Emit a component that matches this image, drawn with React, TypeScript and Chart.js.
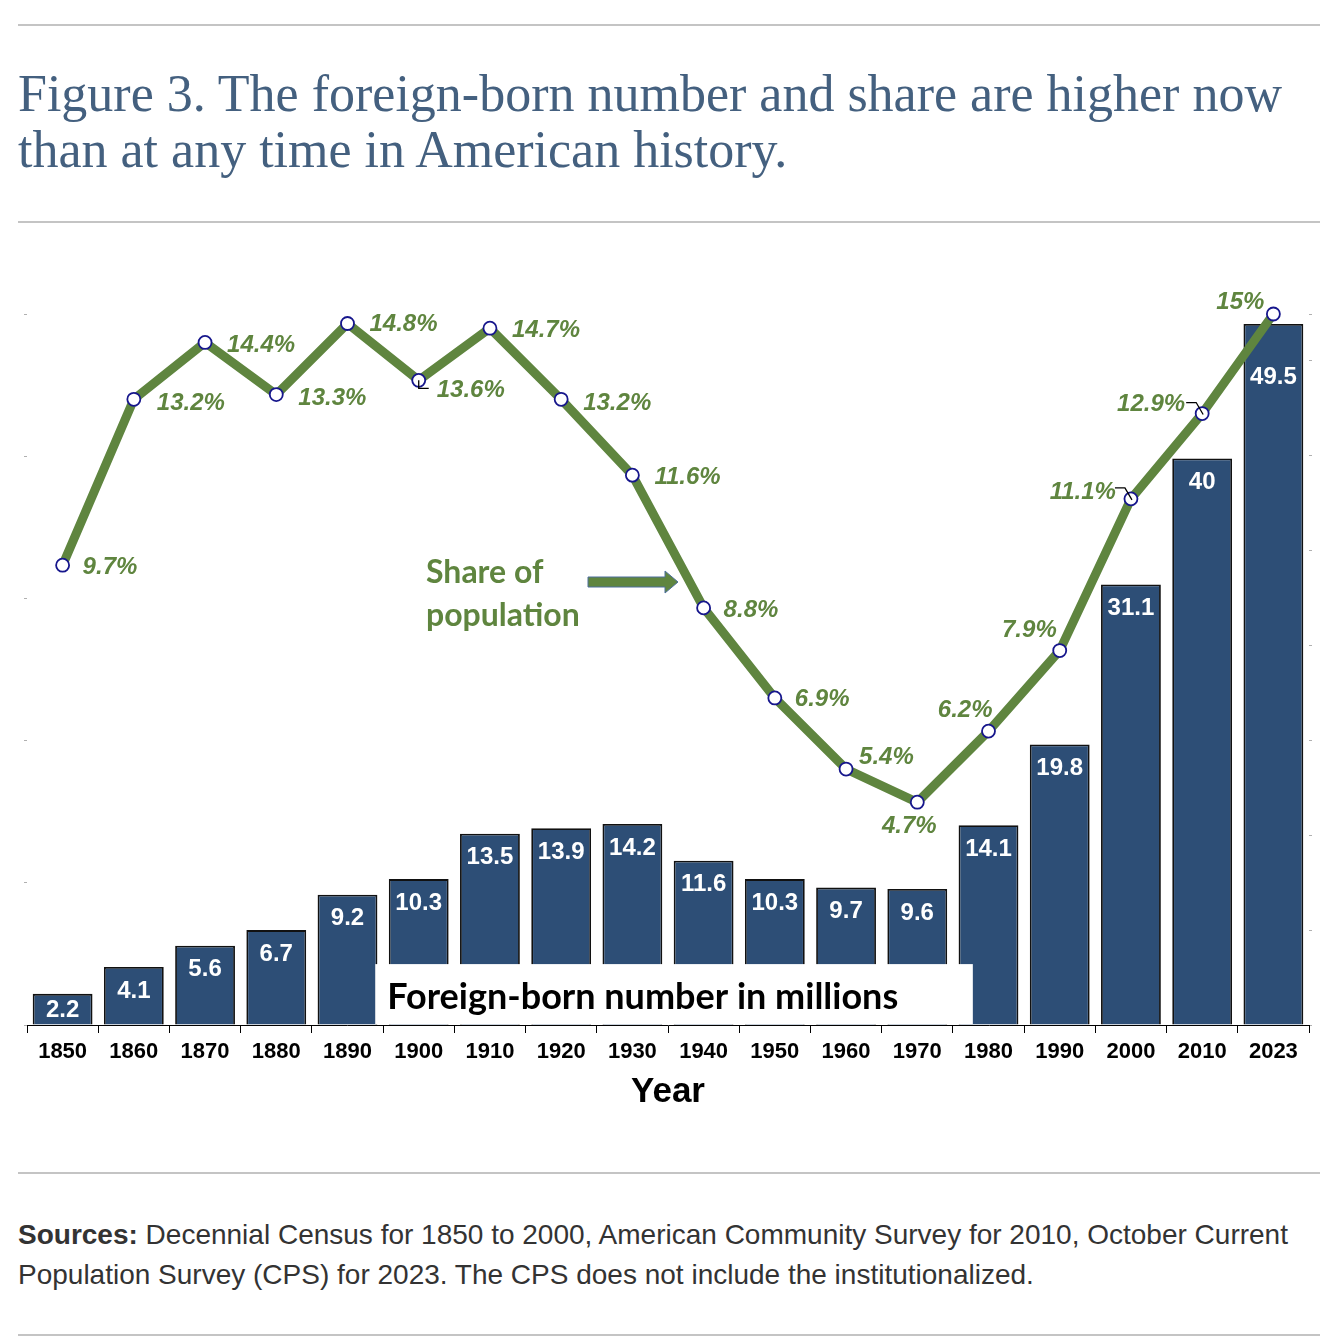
import React, { useEffect, useRef } from 'react';
import { Chart, registerables } from 'chart.js';

Chart.register(...registerables);

// ---------------- data ----------------
const years = ['1850', '1860', '1870', '1880', '1890', '1900', '1910', '1920', '1930', '1940', '1950', '1960', '1970', '1980', '1990', '2000', '2010', '2023'];
const foreignBornMillions = [2.2, 4.1, 5.6, 6.7, 9.2, 10.3, 13.5, 13.9, 14.2, 11.6, 10.3, 9.7, 9.6, 14.1, 19.8, 31.1, 40, 49.5];
const sharePercent = [9.7, 13.2, 14.4, 13.3, 14.8, 13.6, 14.7, 13.2, 11.6, 8.8, 6.9, 5.4, 4.7, 6.2, 7.9, 11.1, 12.9, 15];
const numberLabels = foreignBornMillions.map((v) => String(v));
const shareLabels = sharePercent.map((v) => v + '%');

// ---------------- styles ----------------
const GREEN = '#5f853f';
const BAR = '#2d4e76';
const NAVY = '#16168c';
const SANS = '"Liberation Sans", Arial, Helvetica, sans-serif';

// label placement relative to each point: [dx, dy, align]
const sharePlacement: [number, number, CanvasTextAlign][] = [
  [20, 2, 'left'], [23, 4, 'left'], [22, 3, 'left'], [22, 4, 'left'], [22, 1, 'left'],
  [18, 10, 'left'], [22, 2, 'left'], [22, 4, 'left'], [22, 2, 'left'], [20, 2, 'left'],
  [20, 1, 'left'], [13, -12, 'left'], [-8, 24, 'center'], [4, -21, 'right'], [-3, -20, 'right'],
  [-15, -6, 'right'], [-17, -9, 'right'], [-9, -12, 'right'],
];

const annotationPlugin = {
  id: 'annotationPlugin',
  afterDatasetsDraw(chart: any) {
    const ctx: CanvasRenderingContext2D = chart.ctx;
    const xs = chart.scales.x;
    const yR = chart.scales.yR;
    const area = chart.chartArea;
    const barMeta = chart.getDatasetMeta(0);
    const lineMeta = chart.getDatasetMeta(1);
    const cw = xs.getPixelForValue(1) - xs.getPixelForValue(0);
    ctx.save();

    // bar value labels
    ctx.fillStyle = '#ffffff';
    ctx.font = `bold 24px ${SANS}`;
    ctx.textAlign = 'center';
    ctx.textBaseline = 'middle';
    barMeta.data.forEach((bar: any, i: number) => {
      const p = bar.getProps(['x', 'y', 'base'], true);
      let cy = Math.min(p.y + 23, (p.y + p.base) / 2);
      if (i === barMeta.data.length - 1) cy = p.y + 52;
      ctx.fillText(numberLabels[i], p.x, cy + 1);
    });

    // white label box for bars
    const boxL = xs.getPixelForValue(4) + 0.39 * cw;
    const boxR = xs.getPixelForValue(13) - 0.22 * cw;
    const boxT = yR.getPixelForValue(4.3);
    const boxB = area.bottom - 1;
    ctx.fillStyle = '#ffffff';
    ctx.fillRect(boxL, boxT, boxR - boxL, boxB - boxT);
    ctx.fillStyle = '#000000';
    ctx.font = 'bold 36px Lato, "Open Sans", sans-serif';
    ctx.textAlign = 'left';
    ctx.textBaseline = 'middle';
    ctx.fillText('Foreign-born number in millions', boxL + 12, boxT + 33);

    // share labels
    ctx.fillStyle = GREEN;
    ctx.font = `italic bold 24px ${SANS}`;
    ctx.textBaseline = 'middle';
    lineMeta.data.forEach((pt: any, i: number) => {
      const [dx, dy, align] = sharePlacement[i];
      ctx.textAlign = align;
      ctx.fillText(shareLabels[i], pt.x + dx, pt.y + dy);
    });

    // leader lines
    ctx.strokeStyle = '#000000';
    ctx.lineWidth = 1.3;
    const p5 = lineMeta.data[5];
    ctx.beginPath();
    ctx.moveTo(p5.x, p5.y);
    ctx.lineTo(p5.x, p5.y + 8);
    ctx.lineTo(p5.x + 10, p5.y + 8);
    ctx.stroke();
    [15, 16].forEach((i) => {
      const p = lineMeta.data[i];
      ctx.beginPath();
      ctx.moveTo(p.x - 16, p.y - 11);
      ctx.lineTo(p.x - 6, p.y - 11);
      ctx.lineTo(p.x + 1, p.y + 1);
      ctx.stroke();
    });

    // "Share of population" annotation with arrow
    ctx.fillStyle = GREEN;
    ctx.font = 'bold 32px Lato, "Open Sans", sans-serif';
    ctx.textAlign = 'left';
    ctx.textBaseline = 'middle';
    const tx = area.left + 399;
    const ty = area.top + 259;
    ctx.fillText('Share of', tx, ty);
    ctx.fillText('population', tx, ty + 43);

    const ax0 = area.left + 561;
    const ax1 = area.left + 651;
    const ay = area.top + 268;
    ctx.beginPath();
    ctx.moveTo(ax0, ay - 5);
    ctx.lineTo(ax1 - 13, ay - 5);
    ctx.lineTo(ax1 - 13, ay - 11);
    ctx.lineTo(ax1, ay);
    ctx.lineTo(ax1 - 13, ay + 11);
    ctx.lineTo(ax1 - 13, ay + 5);
    ctx.lineTo(ax0, ay + 5);
    ctx.closePath();
    ctx.fillStyle = GREEN;
    ctx.fill();
    ctx.strokeStyle = '#4d6f9c';
    ctx.lineWidth = 1;
    ctx.stroke();

    ctx.restore();
  },
};

function ChartBlock() {
  const ref = useRef<HTMLCanvasElement | null>(null);
  useEffect(() => {
    if (!ref.current) return;
    const chart = new Chart(ref.current, {
      type: 'bar',
      data: {
        labels: years,
        datasets: [
          {
            type: 'bar',
            label: 'Foreign-born number in millions',
            data: foreignBornMillions,
            yAxisID: 'yR',
            backgroundColor: BAR,
            borderColor: '#111111',
            borderWidth: 1.8,
            barPercentage: 0.84,
            categoryPercentage: 1,
            order: 2,
          } as any,
          {
            type: 'line',
            label: 'Share of population',
            data: sharePercent,
            yAxisID: 'yL',
            borderColor: GREEN,
            borderWidth: 9,
            tension: 0,
            clip: false,
            pointRadius: 6.5,
            pointBackgroundColor: '#ffffff',
            pointBorderColor: NAVY,
            pointBorderWidth: 1.8,
            order: 1,
          } as any,
        ],
      },
      options: {
        responsive: false,
        maintainAspectRatio: false,
        animation: false,
        layout: { padding: { top: 84, left: 0, right: 0, bottom: 0 } },
        plugins: {
          legend: { display: false },
          tooltip: { enabled: false },
          title: { display: false },
        },
        scales: {
          x: {
            type: 'category',
            position: 'bottom',
            offset: true,
            grid: { display: true, offset: true, drawOnChartArea: false, drawTicks: true, tickLength: 8, color: '#000000', lineWidth: 1 },
            border: { display: true, color: '#000000', width: 1 },
            ticks: { color: '#000000', font: { family: SANS, size: 22, weight: 'bold' }, padding: 6, maxRotation: 0, autoSkip: false },
            title: { display: true, text: 'Year', color: '#000000', font: { family: SANS, size: 35, weight: 'bold' }, padding: { top: 0, bottom: 17 } },
            afterFit: (s: any) => { s.height = 105; },
          },
          yL: {
            type: 'linear',
            position: 'left',
            min: 0,
            max: 15,
            ticks: { display: false, stepSize: 3 },
            grid: { display: true, drawOnChartArea: false, drawTicks: true, tickLength: 3, color: '#b0b0b0', lineWidth: 1 },
            border: { display: false },
            afterFit: (s: any) => { s.width = 27; },
          },
          yR: {
            type: 'linear',
            position: 'right',
            min: 0,
            max: 50.2,
            ticks: { display: false, stepSize: 6.7 },
            grid: { display: true, drawOnChartArea: false, drawTicks: true, tickLength: 3, color: '#b0b0b0', lineWidth: 1 },
            border: { display: false },
            afterFit: (s: any) => { s.width = 25; },
          },
        },
      } as any,
      plugins: [annotationPlugin],
    });
    return () => chart.destroy();
  }, []);
  return <canvas ref={ref} width={1334} height={900} style={{ position: 'absolute', left: 0, top: 230, width: 1334, height: 900 }} />;
}

const rule = (top: number): React.CSSProperties => ({
  position: 'absolute', left: 18, top, width: 1302, height: 2, background: '#c4c4c4',
});

export default function App() {
  return (
    <div style={{ position: 'absolute', left: 0, top: 0, width: 1334, height: 1341, background: '#ffffff', overflow: 'hidden' }}>
      <div style={rule(24)} />
      <div
        style={{
          position: 'absolute', left: 18, top: 66, whiteSpace: 'nowrap',
          fontFamily: '"Liberation Serif", "Times New Roman", serif', fontSize: 52, lineHeight: '56px', color: '#44607f',
        }}
      >
        Figure 3. The foreign-born number and share are higher now
        <br />
        than at any time in American history.
      </div>
      <div style={rule(221)} />
      <ChartBlock />
      <div style={rule(1172)} />
      <div
        style={{
          position: 'absolute', left: 18, top: 1215, whiteSpace: 'nowrap',
          fontFamily: SANS, fontSize: 28, lineHeight: '40px', color: '#333333',
        }}
      >
        <b>Sources:</b> Decennial Census for 1850 to 2000, American Community Survey for 2010, October Current
        <br />
        Population Survey (CPS) for 2023. The CPS does not include the institutionalized.
      </div>
      <div style={rule(1334)} />
    </div>
  );
}
